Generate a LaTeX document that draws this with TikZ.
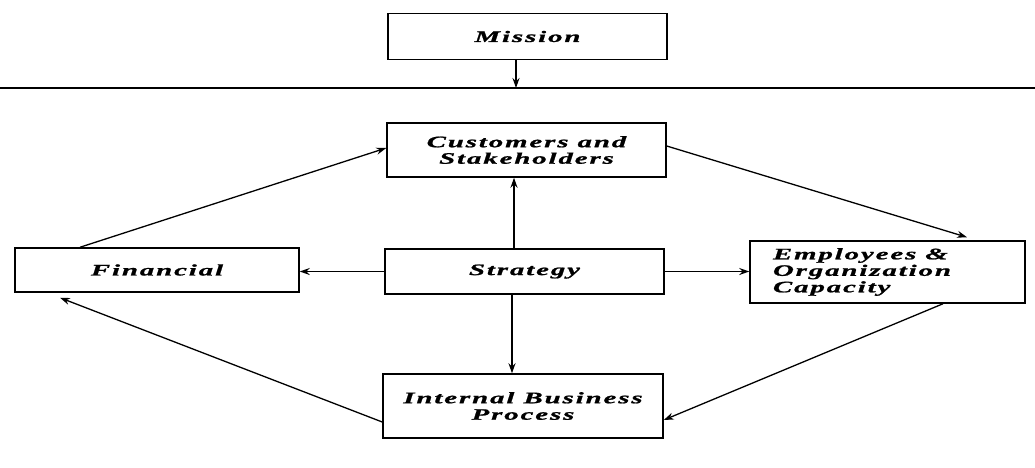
\documentclass[tikz,border=0pt]{standalone}
\usepackage{fontspec}
\newfontfamily\dfont{Liberation Serif Bold Italic}[FakeStretch=1.8,LetterSpace=12,FakeBold=1.2]
\usetikzlibrary{arrows.meta}
\begin{document}
\begin{tikzpicture}[x=1pt,y=-1pt,
  box/.style={draw,line width=1.5pt,inner sep=0pt,align=center,
    font=\dfont\fontsize{16}{16.5}\selectfont},
  arr/.style={line width=1.3pt,-{Stealth[length=10pt,width=7pt]}},
  ln/.style={line width=1.3pt}]
\useasboundingbox (0,0) rectangle (1035,467);
\node[box,minimum width=279pt,minimum height=46pt] (mission) at (527.5,36.5) {Mission};
\node[box,minimum width=279pt,minimum height=54pt] (customers) at (526.5,150) {Customers and\\Stakeholders};
\node[box,minimum width=279pt,minimum height=45pt] (strategy) at (524.5,271.5) {Strategy};
\node[box,minimum width=284pt,minimum height=44pt] (financial) at (157,270) {Financial};
\node[box,minimum width=275pt,minimum height=62pt,align=left,text width=229pt] (employees) at (887.5,272) {Employees\hspace{9pt}\&\\Organization\\Capacity};
\node[box,minimum width=280pt,minimum height=64pt] (internal) at (523,406) {Internal Business\\Process};
\coordinate (sepL) at (0,88);
\coordinate (sepR) at (1035,88);
\coordinate (sepM) at (516,88);
\draw[ln] (sepL) -- (sepR);
\draw[arr] (mission.south -| sepM) -- (sepM);
\draw[arr] ([xshift=-10.5pt]strategy.north) -- ([xshift=-10.5pt]strategy.north |- customers.south);
\draw[arr] (strategy.west) -- (strategy.west -| financial.east);
\draw[arr] (strategy.east) -- (strategy.east -| employees.west);
\draw[arr] ([xshift=-12.5pt]strategy.south) -- ([xshift=-12.5pt]strategy.south |- internal.north);
\draw[arr] ([xshift=-77pt]financial.north) -- ([yshift=2pt]customers.west);
\draw[arr] ([yshift=4pt]customers.east) -- ([xshift=79.5pt,yshift=3pt]employees.north);
\draw[arr] ([xshift=55.5pt]employees.south) -- ([yshift=-14pt]internal.east);
\draw[arr] ([yshift=-16pt]internal.west) -- ([xshift=-97pt,yshift=-5pt]financial.south);
\end{tikzpicture}
\end{document}
